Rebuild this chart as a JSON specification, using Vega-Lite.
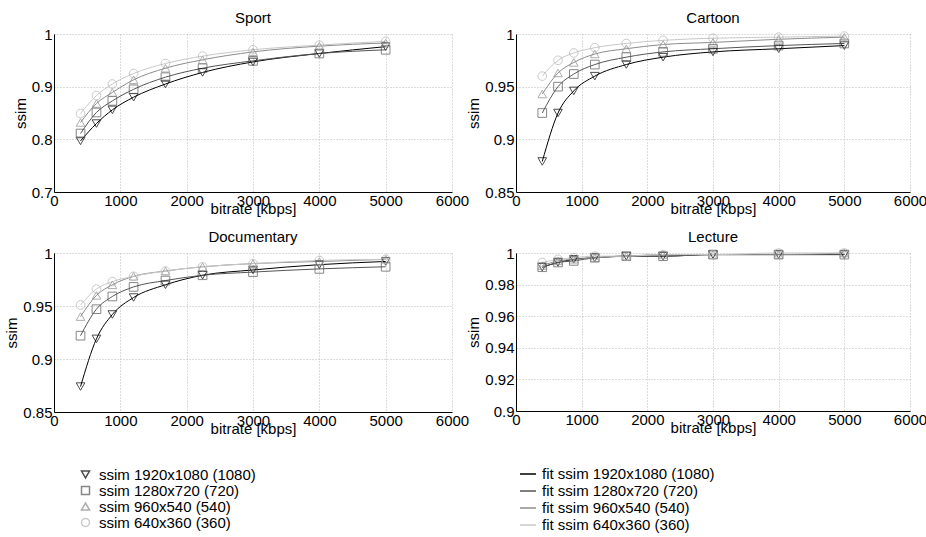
{
  "$schema": "https://vega.github.io/schema/vega-lite/v6.json",
  "padding": {"left": 4, "top": 11, "right": 5, "bottom": 5},
  "config": {
    "font": "Liberation Sans",
    "view": {"stroke": null},
    "axis": {"labelFontSize": 15, "titleFontSize": 15, "titleFontWeight": "normal", "labelColor": "#000", "titleColor": "#000", "domainColor": "#000", "domainWidth": 1, "ticks": false, "gridColor": "#bbbbbb", "gridDash": [1, 2], "labelPadding": 2, "labelFlush": false},
    "axisY": {"titlePadding": 3},
    "axisX": {"titlePadding": -7, "labelPadding": 1},
    "title": {"fontSize": 15, "fontWeight": "normal", "offset": 1, "frame": "group", "color": "#000"},
    "legend": {"labelFontSize": 15, "labelColor": "#000", "rowPadding": 0, "labelLimit": 300}
  },
  "data": {"values": [
    {"video":"Sport","bitrate":400,"ssim":0.797,"res":"ssim 1920x1080 (1080)"},
    {"video":"Sport","bitrate":640,"ssim":0.830,"res":"ssim 1920x1080 (1080)"},
    {"video":"Sport","bitrate":880,"ssim":0.856,"res":"ssim 1920x1080 (1080)"},
    {"video":"Sport","bitrate":1200,"ssim":0.880,"res":"ssim 1920x1080 (1080)"},
    {"video":"Sport","bitrate":1680,"ssim":0.905,"res":"ssim 1920x1080 (1080)"},
    {"video":"Sport","bitrate":2240,"ssim":0.927,"res":"ssim 1920x1080 (1080)"},
    {"video":"Sport","bitrate":3000,"ssim":0.947,"res":"ssim 1920x1080 (1080)"},
    {"video":"Sport","bitrate":4000,"ssim":0.963,"res":"ssim 1920x1080 (1080)"},
    {"video":"Sport","bitrate":5000,"ssim":0.976,"res":"ssim 1920x1080 (1080)"},
    {"video":"Sport","bitrate":400,"ssim":0.811,"res":"ssim 1280x720 (720)"},
    {"video":"Sport","bitrate":640,"ssim":0.851,"res":"ssim 1280x720 (720)"},
    {"video":"Sport","bitrate":880,"ssim":0.873,"res":"ssim 1280x720 (720)"},
    {"video":"Sport","bitrate":1200,"ssim":0.895,"res":"ssim 1280x720 (720)"},
    {"video":"Sport","bitrate":1680,"ssim":0.918,"res":"ssim 1280x720 (720)"},
    {"video":"Sport","bitrate":2240,"ssim":0.935,"res":"ssim 1280x720 (720)"},
    {"video":"Sport","bitrate":3000,"ssim":0.949,"res":"ssim 1280x720 (720)"},
    {"video":"Sport","bitrate":4000,"ssim":0.963,"res":"ssim 1280x720 (720)"},
    {"video":"Sport","bitrate":5000,"ssim":0.970,"res":"ssim 1280x720 (720)"},
    {"video":"Sport","bitrate":400,"ssim":0.832,"res":"ssim 960x540 (540)"},
    {"video":"Sport","bitrate":640,"ssim":0.868,"res":"ssim 960x540 (540)"},
    {"video":"Sport","bitrate":880,"ssim":0.889,"res":"ssim 960x540 (540)"},
    {"video":"Sport","bitrate":1200,"ssim":0.913,"res":"ssim 960x540 (540)"},
    {"video":"Sport","bitrate":1680,"ssim":0.935,"res":"ssim 960x540 (540)"},
    {"video":"Sport","bitrate":2240,"ssim":0.951,"res":"ssim 960x540 (540)"},
    {"video":"Sport","bitrate":3000,"ssim":0.966,"res":"ssim 960x540 (540)"},
    {"video":"Sport","bitrate":4000,"ssim":0.977,"res":"ssim 960x540 (540)"},
    {"video":"Sport","bitrate":5000,"ssim":0.983,"res":"ssim 960x540 (540)"},
    {"video":"Sport","bitrate":400,"ssim":0.849,"res":"ssim 640x360 (360)"},
    {"video":"Sport","bitrate":640,"ssim":0.883,"res":"ssim 640x360 (360)"},
    {"video":"Sport","bitrate":880,"ssim":0.905,"res":"ssim 640x360 (360)"},
    {"video":"Sport","bitrate":1200,"ssim":0.925,"res":"ssim 640x360 (360)"},
    {"video":"Sport","bitrate":1680,"ssim":0.944,"res":"ssim 640x360 (360)"},
    {"video":"Sport","bitrate":2240,"ssim":0.958,"res":"ssim 640x360 (360)"},
    {"video":"Sport","bitrate":3000,"ssim":0.970,"res":"ssim 640x360 (360)"},
    {"video":"Sport","bitrate":4000,"ssim":0.979,"res":"ssim 640x360 (360)"},
    {"video":"Sport","bitrate":5000,"ssim":0.986,"res":"ssim 640x360 (360)"},
    {"video":"Cartoon","bitrate":400,"ssim":0.879,"res":"ssim 1920x1080 (1080)"},
    {"video":"Cartoon","bitrate":640,"ssim":0.925,"res":"ssim 1920x1080 (1080)"},
    {"video":"Cartoon","bitrate":880,"ssim":0.946,"res":"ssim 1920x1080 (1080)"},
    {"video":"Cartoon","bitrate":1200,"ssim":0.960,"res":"ssim 1920x1080 (1080)"},
    {"video":"Cartoon","bitrate":1680,"ssim":0.971,"res":"ssim 1920x1080 (1080)"},
    {"video":"Cartoon","bitrate":2240,"ssim":0.978,"res":"ssim 1920x1080 (1080)"},
    {"video":"Cartoon","bitrate":3000,"ssim":0.983,"res":"ssim 1920x1080 (1080)"},
    {"video":"Cartoon","bitrate":4000,"ssim":0.986,"res":"ssim 1920x1080 (1080)"},
    {"video":"Cartoon","bitrate":5000,"ssim":0.989,"res":"ssim 1920x1080 (1080)"},
    {"video":"Cartoon","bitrate":400,"ssim":0.925,"res":"ssim 1280x720 (720)"},
    {"video":"Cartoon","bitrate":640,"ssim":0.950,"res":"ssim 1280x720 (720)"},
    {"video":"Cartoon","bitrate":880,"ssim":0.962,"res":"ssim 1280x720 (720)"},
    {"video":"Cartoon","bitrate":1200,"ssim":0.971,"res":"ssim 1280x720 (720)"},
    {"video":"Cartoon","bitrate":1680,"ssim":0.978,"res":"ssim 1280x720 (720)"},
    {"video":"Cartoon","bitrate":2240,"ssim":0.983,"res":"ssim 1280x720 (720)"},
    {"video":"Cartoon","bitrate":3000,"ssim":0.986,"res":"ssim 1280x720 (720)"},
    {"video":"Cartoon","bitrate":4000,"ssim":0.989,"res":"ssim 1280x720 (720)"},
    {"video":"Cartoon","bitrate":5000,"ssim":0.991,"res":"ssim 1280x720 (720)"},
    {"video":"Cartoon","bitrate":400,"ssim":0.943,"res":"ssim 960x540 (540)"},
    {"video":"Cartoon","bitrate":640,"ssim":0.963,"res":"ssim 960x540 (540)"},
    {"video":"Cartoon","bitrate":880,"ssim":0.973,"res":"ssim 960x540 (540)"},
    {"video":"Cartoon","bitrate":1200,"ssim":0.981,"res":"ssim 960x540 (540)"},
    {"video":"Cartoon","bitrate":1680,"ssim":0.986,"res":"ssim 960x540 (540)"},
    {"video":"Cartoon","bitrate":2240,"ssim":0.990,"res":"ssim 960x540 (540)"},
    {"video":"Cartoon","bitrate":3000,"ssim":0.992,"res":"ssim 960x540 (540)"},
    {"video":"Cartoon","bitrate":4000,"ssim":0.995,"res":"ssim 960x540 (540)"},
    {"video":"Cartoon","bitrate":5000,"ssim":0.997,"res":"ssim 960x540 (540)"},
    {"video":"Cartoon","bitrate":400,"ssim":0.960,"res":"ssim 640x360 (360)"},
    {"video":"Cartoon","bitrate":640,"ssim":0.975,"res":"ssim 640x360 (360)"},
    {"video":"Cartoon","bitrate":880,"ssim":0.982,"res":"ssim 640x360 (360)"},
    {"video":"Cartoon","bitrate":1200,"ssim":0.987,"res":"ssim 640x360 (360)"},
    {"video":"Cartoon","bitrate":1680,"ssim":0.991,"res":"ssim 640x360 (360)"},
    {"video":"Cartoon","bitrate":2240,"ssim":0.994,"res":"ssim 640x360 (360)"},
    {"video":"Cartoon","bitrate":3000,"ssim":0.996,"res":"ssim 640x360 (360)"},
    {"video":"Cartoon","bitrate":4000,"ssim":0.997,"res":"ssim 640x360 (360)"},
    {"video":"Cartoon","bitrate":5000,"ssim":0.998,"res":"ssim 640x360 (360)"},
    {"video":"Documentary","bitrate":400,"ssim":0.874,"res":"ssim 1920x1080 (1080)"},
    {"video":"Documentary","bitrate":640,"ssim":0.919,"res":"ssim 1920x1080 (1080)"},
    {"video":"Documentary","bitrate":880,"ssim":0.942,"res":"ssim 1920x1080 (1080)"},
    {"video":"Documentary","bitrate":1200,"ssim":0.958,"res":"ssim 1920x1080 (1080)"},
    {"video":"Documentary","bitrate":1680,"ssim":0.970,"res":"ssim 1920x1080 (1080)"},
    {"video":"Documentary","bitrate":2240,"ssim":0.979,"res":"ssim 1920x1080 (1080)"},
    {"video":"Documentary","bitrate":3000,"ssim":0.984,"res":"ssim 1920x1080 (1080)"},
    {"video":"Documentary","bitrate":4000,"ssim":0.989,"res":"ssim 1920x1080 (1080)"},
    {"video":"Documentary","bitrate":5000,"ssim":0.992,"res":"ssim 1920x1080 (1080)"},
    {"video":"Documentary","bitrate":400,"ssim":0.922,"res":"ssim 1280x720 (720)"},
    {"video":"Documentary","bitrate":640,"ssim":0.947,"res":"ssim 1280x720 (720)"},
    {"video":"Documentary","bitrate":880,"ssim":0.959,"res":"ssim 1280x720 (720)"},
    {"video":"Documentary","bitrate":1200,"ssim":0.968,"res":"ssim 1280x720 (720)"},
    {"video":"Documentary","bitrate":1680,"ssim":0.974,"res":"ssim 1280x720 (720)"},
    {"video":"Documentary","bitrate":2240,"ssim":0.979,"res":"ssim 1280x720 (720)"},
    {"video":"Documentary","bitrate":3000,"ssim":0.982,"res":"ssim 1280x720 (720)"},
    {"video":"Documentary","bitrate":4000,"ssim":0.985,"res":"ssim 1280x720 (720)"},
    {"video":"Documentary","bitrate":5000,"ssim":0.987,"res":"ssim 1280x720 (720)"},
    {"video":"Documentary","bitrate":400,"ssim":0.940,"res":"ssim 960x540 (540)"},
    {"video":"Documentary","bitrate":640,"ssim":0.960,"res":"ssim 960x540 (540)"},
    {"video":"Documentary","bitrate":880,"ssim":0.970,"res":"ssim 960x540 (540)"},
    {"video":"Documentary","bitrate":1200,"ssim":0.978,"res":"ssim 960x540 (540)"},
    {"video":"Documentary","bitrate":1680,"ssim":0.983,"res":"ssim 960x540 (540)"},
    {"video":"Documentary","bitrate":2240,"ssim":0.987,"res":"ssim 960x540 (540)"},
    {"video":"Documentary","bitrate":3000,"ssim":0.990,"res":"ssim 960x540 (540)"},
    {"video":"Documentary","bitrate":4000,"ssim":0.992,"res":"ssim 960x540 (540)"},
    {"video":"Documentary","bitrate":5000,"ssim":0.994,"res":"ssim 960x540 (540)"},
    {"video":"Documentary","bitrate":400,"ssim":0.951,"res":"ssim 640x360 (360)"},
    {"video":"Documentary","bitrate":640,"ssim":0.966,"res":"ssim 640x360 (360)"},
    {"video":"Documentary","bitrate":880,"ssim":0.973,"res":"ssim 640x360 (360)"},
    {"video":"Documentary","bitrate":1200,"ssim":0.978,"res":"ssim 640x360 (360)"},
    {"video":"Documentary","bitrate":1680,"ssim":0.983,"res":"ssim 640x360 (360)"},
    {"video":"Documentary","bitrate":2240,"ssim":0.987,"res":"ssim 640x360 (360)"},
    {"video":"Documentary","bitrate":3000,"ssim":0.990,"res":"ssim 640x360 (360)"},
    {"video":"Documentary","bitrate":4000,"ssim":0.993,"res":"ssim 640x360 (360)"},
    {"video":"Documentary","bitrate":5000,"ssim":0.994,"res":"ssim 640x360 (360)"},
    {"video":"Lecture","bitrate":400,"ssim":0.991,"res":"ssim 1920x1080 (1080)"},
    {"video":"Lecture","bitrate":640,"ssim":0.994,"res":"ssim 1920x1080 (1080)"},
    {"video":"Lecture","bitrate":880,"ssim":0.996,"res":"ssim 1920x1080 (1080)"},
    {"video":"Lecture","bitrate":1200,"ssim":0.997,"res":"ssim 1920x1080 (1080)"},
    {"video":"Lecture","bitrate":1680,"ssim":0.998,"res":"ssim 1920x1080 (1080)"},
    {"video":"Lecture","bitrate":2240,"ssim":0.998,"res":"ssim 1920x1080 (1080)"},
    {"video":"Lecture","bitrate":3000,"ssim":0.999,"res":"ssim 1920x1080 (1080)"},
    {"video":"Lecture","bitrate":4000,"ssim":0.999,"res":"ssim 1920x1080 (1080)"},
    {"video":"Lecture","bitrate":5000,"ssim":0.999,"res":"ssim 1920x1080 (1080)"},
    {"video":"Lecture","bitrate":400,"ssim":0.991,"res":"ssim 1280x720 (720)"},
    {"video":"Lecture","bitrate":640,"ssim":0.994,"res":"ssim 1280x720 (720)"},
    {"video":"Lecture","bitrate":880,"ssim":0.995,"res":"ssim 1280x720 (720)"},
    {"video":"Lecture","bitrate":1200,"ssim":0.997,"res":"ssim 1280x720 (720)"},
    {"video":"Lecture","bitrate":1680,"ssim":0.998,"res":"ssim 1280x720 (720)"},
    {"video":"Lecture","bitrate":2240,"ssim":0.998,"res":"ssim 1280x720 (720)"},
    {"video":"Lecture","bitrate":3000,"ssim":0.999,"res":"ssim 1280x720 (720)"},
    {"video":"Lecture","bitrate":4000,"ssim":0.999,"res":"ssim 1280x720 (720)"},
    {"video":"Lecture","bitrate":5000,"ssim":0.999,"res":"ssim 1280x720 (720)"},
    {"video":"Lecture","bitrate":400,"ssim":0.992,"res":"ssim 960x540 (540)"},
    {"video":"Lecture","bitrate":640,"ssim":0.995,"res":"ssim 960x540 (540)"},
    {"video":"Lecture","bitrate":880,"ssim":0.996,"res":"ssim 960x540 (540)"},
    {"video":"Lecture","bitrate":1200,"ssim":0.997,"res":"ssim 960x540 (540)"},
    {"video":"Lecture","bitrate":1680,"ssim":0.998,"res":"ssim 960x540 (540)"},
    {"video":"Lecture","bitrate":2240,"ssim":0.999,"res":"ssim 960x540 (540)"},
    {"video":"Lecture","bitrate":3000,"ssim":0.999,"res":"ssim 960x540 (540)"},
    {"video":"Lecture","bitrate":4000,"ssim":0.999,"res":"ssim 960x540 (540)"},
    {"video":"Lecture","bitrate":5000,"ssim":1.0,"res":"ssim 960x540 (540)"},
    {"video":"Lecture","bitrate":400,"ssim":0.994,"res":"ssim 640x360 (360)"},
    {"video":"Lecture","bitrate":640,"ssim":0.996,"res":"ssim 640x360 (360)"},
    {"video":"Lecture","bitrate":880,"ssim":0.997,"res":"ssim 640x360 (360)"},
    {"video":"Lecture","bitrate":1200,"ssim":0.998,"res":"ssim 640x360 (360)"},
    {"video":"Lecture","bitrate":1680,"ssim":0.998,"res":"ssim 640x360 (360)"},
    {"video":"Lecture","bitrate":2240,"ssim":0.999,"res":"ssim 640x360 (360)"},
    {"video":"Lecture","bitrate":3000,"ssim":0.999,"res":"ssim 640x360 (360)"},
    {"video":"Lecture","bitrate":4000,"ssim":1.0,"res":"ssim 640x360 (360)"},
    {"video":"Lecture","bitrate":5000,"ssim":1.0,"res":"ssim 640x360 (360)"}
  ]},
  "columns": 2,
  "spacing": {"row": 61, "column": 64},
  "bounds": "flush",
  "align": "each",
  "resolve": {"scale": {"x": "independent", "y": "independent", "color": "shared", "shape": "shared", "stroke": "shared"}, "axis": {"x": "independent", "y": "independent"}},
  "concat": [
    {
      "title": "Sport", "width": 398, "height": 158,
      "transform": [{"filter": "datum.video === 'Sport'"}],
      "encoding": {
        "x": {"field": "bitrate", "type": "quantitative", "scale": {"domain": [0, 6000], "nice": false}, "axis": {"values": [0,1000,2000,3000,4000,5000,6000], "format": "d", "title": "bitrate [kbps]"}},
        "y": {"field": "ssim", "type": "quantitative", "scale": {"domain": [0.7, 1], "nice": false, "zero": false}, "axis": {"values": [0.7,0.8,0.9,1], "format": "~g", "title": "ssim"}}
      },
      "layer": [
        {"mark": {"type": "line", "interpolate": "monotone", "strokeWidth": 1},
         "encoding": {"stroke": {"field": "res", "type": "nominal", "sort": ["ssim 1920x1080 (1080)","ssim 1280x720 (720)","ssim 960x540 (540)","ssim 640x360 (360)"], "scale": {"range": ["#000000","#555555","#8c8c8c","#c8c8c8"]}, "legend": {"title": null, "orient": "none", "legendX": 465, "legendY": 431, "labelExpr": "'fit ' + datum.label", "symbolSize": 256, "labelOffset": 5, "symbolType": "stroke", "rowPadding": 0}}}},
        {"mark": {"type": "point", "filled": false, "strokeWidth": 1, "size": 75},
         "encoding": {
           "color": {"field": "res", "type": "nominal", "scale": {"domain": ["ssim 1920x1080 (1080)","ssim 1280x720 (720)","ssim 960x540 (540)","ssim 640x360 (360)"], "range": ["#000000","#555555","#8c8c8c","#b4b4b4"]}, "legend": {"title": null, "orient": "none", "legendX": 24, "legendY": 433, "symbolSize": 64, "labelOffset": 6, "rowPadding": 0}},
           "shape": {"field": "res", "type": "nominal", "scale": {"domain": ["ssim 1920x1080 (1080)","ssim 1280x720 (720)","ssim 960x540 (540)","ssim 640x360 (360)"], "range": ["triangle-down","square","triangle-up","circle"]}, "legend": {"title": null, "orient": "none", "legendX": 24, "legendY": 433, "symbolSize": 64, "labelOffset": 6, "rowPadding": 0}}
         }}
      ]
    },
    {
      "title": "Cartoon", "width": 394, "height": 158,
      "transform": [{"filter": "datum.video === 'Cartoon'"}],
      "encoding": {
        "x": {"field": "bitrate", "type": "quantitative", "scale": {"domain": [0, 6000], "nice": false}, "axis": {"values": [0,1000,2000,3000,4000,5000,6000], "format": "d", "title": "bitrate [kbps]"}},
        "y": {"field": "ssim", "type": "quantitative", "scale": {"domain": [0.85, 1], "nice": false, "zero": false}, "axis": {"values": [0.85,0.9,0.95,1], "format": "~g", "title": "ssim"}}
      },
      "layer": [
        {"mark": {"type": "line", "interpolate": "monotone", "strokeWidth": 1},
         "encoding": {"stroke": {"field": "res", "type": "nominal", "sort": ["ssim 1920x1080 (1080)","ssim 1280x720 (720)","ssim 960x540 (540)","ssim 640x360 (360)"]}}},
        {"mark": {"type": "point", "filled": false, "strokeWidth": 1, "size": 75},
         "encoding": {"color": {"field": "res", "type": "nominal"}, "shape": {"field": "res", "type": "nominal"}}}
      ]
    },
    {
      "title": "Documentary", "width": 398, "height": 159,
      "transform": [{"filter": "datum.video === 'Documentary'"}],
      "encoding": {
        "x": {"field": "bitrate", "type": "quantitative", "scale": {"domain": [0, 6000], "nice": false}, "axis": {"values": [0,1000,2000,3000,4000,5000,6000], "format": "d", "title": "bitrate [kbps]"}},
        "y": {"field": "ssim", "type": "quantitative", "scale": {"domain": [0.85, 1], "nice": false, "zero": false}, "axis": {"values": [0.85,0.9,0.95,1], "format": "~g", "title": "ssim"}}
      },
      "layer": [
        {"mark": {"type": "line", "interpolate": "monotone", "strokeWidth": 1},
         "encoding": {"stroke": {"field": "res", "type": "nominal", "sort": ["ssim 1920x1080 (1080)","ssim 1280x720 (720)","ssim 960x540 (540)","ssim 640x360 (360)"]}}},
        {"mark": {"type": "point", "filled": false, "strokeWidth": 1, "size": 75},
         "encoding": {"color": {"field": "res", "type": "nominal"}, "shape": {"field": "res", "type": "nominal"}}}
      ]
    },
    {
      "title": "Lecture", "width": 394, "height": 158,
      "transform": [{"filter": "datum.video === 'Lecture'"}],
      "encoding": {
        "x": {"field": "bitrate", "type": "quantitative", "scale": {"domain": [0, 6000], "nice": false}, "axis": {"values": [0,1000,2000,3000,4000,5000,6000], "format": "d", "title": "bitrate [kbps]"}},
        "y": {"field": "ssim", "type": "quantitative", "scale": {"domain": [0.9, 1], "nice": false, "zero": false}, "axis": {"values": [0.9,0.92,0.94,0.96,0.98,1], "format": "~g", "title": "ssim"}}
      },
      "layer": [
        {"mark": {"type": "line", "interpolate": "monotone", "strokeWidth": 1},
         "encoding": {"stroke": {"field": "res", "type": "nominal", "sort": ["ssim 1920x1080 (1080)","ssim 1280x720 (720)","ssim 960x540 (540)","ssim 640x360 (360)"]}}},
        {"mark": {"type": "point", "filled": false, "strokeWidth": 1, "size": 75},
         "encoding": {"color": {"field": "res", "type": "nominal"}, "shape": {"field": "res", "type": "nominal"}}}
      ]
    }
  ]
}
